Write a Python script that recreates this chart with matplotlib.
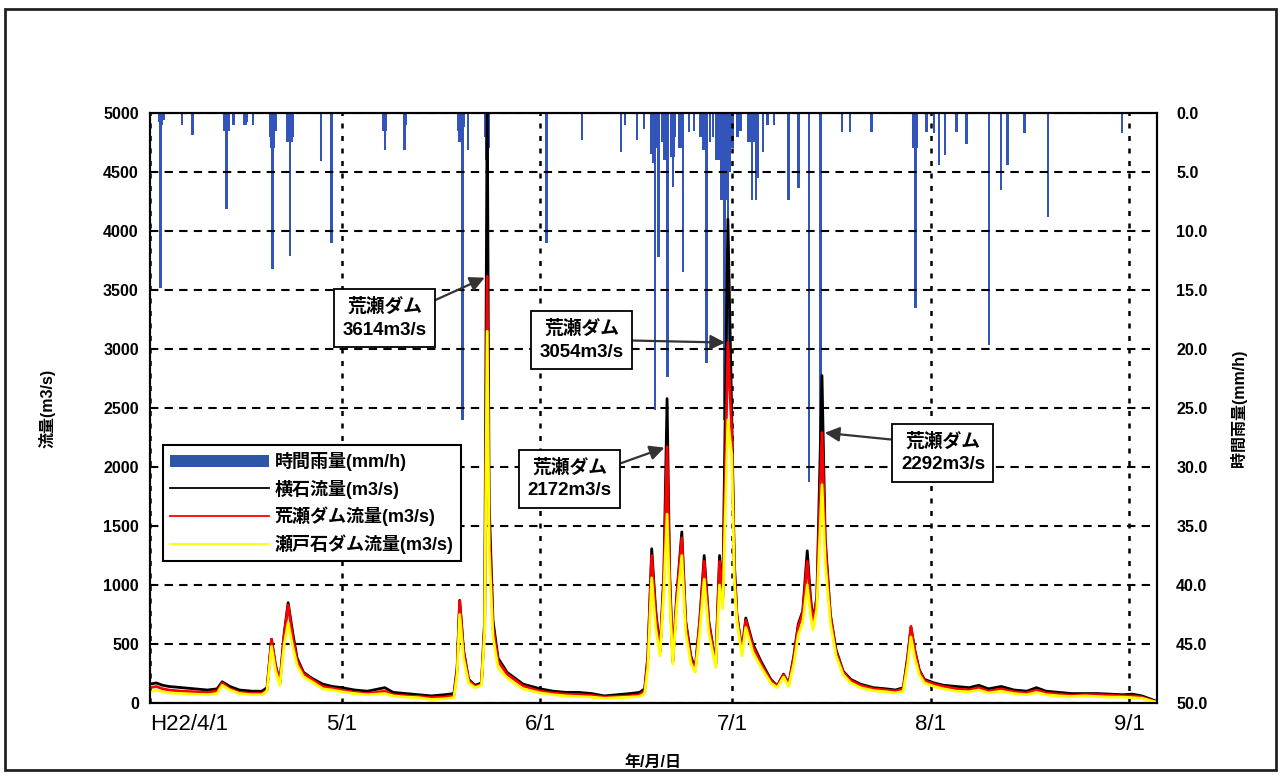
import matplotlib.pyplot as plt
from matplotlib.patches import Patch, Rectangle
from matplotlib.lines import Line2D

plt.rcParams['font.family'] = ['Liberation Sans', 'Noto Sans CJK JP']

# 経過日数 (H22/4/1 = 0)
t_flow = [0, 1, 2, 3, 5, 7, 9, 10.5, 11.3, 12.5,
          14, 16, 17.5, 18.3, 19.0, 19.6, 20.3, 21.0, 21.6, 22.3,
          23.0, 24.0, 25.3, 27.0, 28.5, 30.0, 32.0, 34.0, 36.7, 38.0,
          40.0, 42.0, 44.0, 46.0, 47.5, 48.0, 48.4, 49.0, 49.8, 50.8,
          51.8, 52.3, 52.7, 53.0, 53.6, 54.4, 55.8, 58.3, 61.0, 63.0,
          65.0, 67.0, 69.0, 71.0, 73.0, 75.0, 76.5, 77.3, 77.8, 78.4,
          79.0, 79.7, 80.3, 80.8, 81.2, 81.7, 82.3, 83.1, 83.7, 84.5,
          85.2, 85.9, 86.6, 87.3, 88.4, 89.0, 89.5, 90.3, 90.9, 91.3,
          91.7, 92.5, 93.1, 94.2, 95.5, 97.0, 98.0, 99.0, 99.8, 100.6,
          101.3, 102.0, 102.7, 103.2, 103.6, 104.2, 105.0, 105.5, 106.3, 107.2,
          108.3, 109.5, 111.0, 113.0, 115.0, 116.5, 117.7, 118.4, 118.9, 119.5,
          120.2, 121.0, 122.5, 124.0, 126.0, 128.0, 129.5, 131.0, 133.0, 135.0,
          137.0, 138.5, 140.0, 142.0, 144.0, 146.0, 148.0, 150.0, 152.0, 153.5,
          155.0, 156.0, 157.0]

# 横石流量(m3/s)
q_yokoishi = [160, 170, 150, 140, 130, 120, 110, 120, 180, 140,
              110, 100, 100, 130, 540, 330, 170, 600, 850, 600,
              380, 260, 210, 160, 140, 130, 110, 100, 130, 90,
              80, 70, 60, 70, 80, 300, 870, 450, 200, 150,
              170, 700, 5200, 1700, 700, 380, 260, 160, 120, 100,
              90, 90, 80, 60, 70, 80, 90, 120, 400, 1307,
              800, 440, 1100, 2580, 1100, 360, 900, 1450, 700, 400,
              290, 700, 1250, 700, 330, 1250, 900, 4100, 2450, 1200,
              755, 440, 720, 500, 350, 200, 145, 245, 160, 400,
              670, 780, 1290, 900, 695, 900, 2775, 1400, 755, 450,
              270, 200, 160, 130, 120, 110, 130, 400, 640, 450,
              280, 200, 170, 150, 140, 130, 150, 120, 140, 110,
              100, 130, 100, 90, 80, 80, 80, 75, 70, 75,
              60, 40, 20]

# 荒瀬ダム流量(m3/s)
q_arase = [130, 140, 120, 110, 100, 95, 90, 100, 170, 120,
           90, 80, 80, 110, 540, 320, 165, 580, 830, 560,
           360, 250, 200, 140, 125, 110, 90, 80, 100, 70,
           60, 55, 45, 50, 60, 280, 865, 430, 190, 140,
           160, 650, 3614, 1500, 640, 355, 245, 145, 100, 85,
           75, 70, 65, 50, 55, 60, 70, 100, 380, 1250,
           760, 430, 1050, 2172, 1050, 350, 880, 1400, 680, 380,
           280, 680, 1200, 680, 320, 1200, 880, 3054, 2300, 1150,
           740, 430, 700, 480, 330, 190, 140, 240, 155, 380,
           650, 760, 1200, 850, 680, 880, 2292, 1350, 740, 430,
           260, 190, 150, 120, 110, 100, 120, 380, 650, 440,
           270, 190, 160, 140, 120, 110, 130, 100, 120, 95,
           85, 110, 85, 75, 65, 70, 70, 65, 60, 60,
           50, 30, 15]

# 瀬戸石ダム流量(m3/s)
q_setoishi = [90, 110, 95, 85, 80, 75, 70, 80, 150, 110,
              80, 70, 70, 100, 480, 280, 150, 500, 680, 480,
              320, 220, 180, 120, 110, 95, 80, 70, 80, 60,
              50, 45, 30, 35, 45, 240, 750, 380, 170, 130,
              150, 600, 3150, 1300, 560, 300, 210, 120, 85, 70,
              60, 55, 50, 40, 45, 50, 55, 80, 300, 1060,
              640, 400, 950, 1600, 900, 330, 800, 1250, 600, 340,
              260, 600, 1050, 600, 300, 1000, 800, 2400, 2100, 1050,
              700, 400, 640, 430, 300, 170, 130, 220, 140, 330,
              580, 680, 1000, 750, 620, 800, 1850, 1200, 680, 400,
              240, 170, 130, 105, 95, 85, 100, 330, 560, 380,
              240, 170, 140, 120, 100, 95, 110, 85, 100, 80,
              70, 90, 70, 60, 55, 60, 55, 50, 50, 45,
              40, 25, 10]

# 時間雨量(mm/h)
t_rain = [1.5, 1.7, 1.9, 2.1, 5.0, 6.7, 11.6, 11.8, 12.0, 12.3,
          13.1, 14.8, 15.0, 15.2, 16.1, 18.8, 19.0, 19.2, 19.4, 19.6,
          21.5, 21.7, 21.9, 22.1, 22.3, 26.7, 28.4, 36.5, 36.7, 36.9,
          39.8, 40.0, 48.2, 48.4, 48.6, 48.8, 49.0, 49.7, 52.4, 52.6,
          52.8, 53.0, 62.0, 67.5, 73.6, 74.2, 76.1, 77.2, 78.6, 78.8,
          78.9, 79.1, 79.5, 80.3, 80.6, 80.9, 81.5, 81.7, 81.9, 83.3,
          84.2, 86.4, 86.8, 87.0, 89.0, 89.3, 89.6, 89.8, 90.0, 90.3,
          90.6, 93.5, 93.8, 94.1, 94.4, 94.7, 95.0, 95.8, 99.8, 101.3,
          103.0, 104.8, 108.1, 109.4, 112.7, 119.3, 119.5, 119.6, 119.8, 121.3,
          122.5, 123.3, 124.2, 126.0, 127.6, 131.1, 133.0, 134.0, 136.6, 140.3,
          151.9, 82.0, 82.7, 85.0, 86.0, 88.0, 88.5, 91.0, 91.8, 92.3,
          96.5, 97.5, 78.3, 80.0, 83.0, 87.5]
rain = [0.8, 14.8, 1.0, 0.6, 1.0, 1.9, 1.5, 1.2, 8.1, 1.5,
        1.0, 1.0, 1.0, 0.8, 1.0, 2.0, 3.0, 13.2, 3.0, 1.5,
        2.5, 2.5, 12.1, 2.5, 2.0, 4.1, 11.0, 1.5, 3.1, 1.5,
        3.1, 1.0, 1.5, 2.5, 1.5, 26.0, 1.2, 3.1, 2.0, 4.0,
        7.5, 3.0, 11.0, 2.3, 3.3, 1.0, 2.3, 1.4, 4.2, 4.2,
        25.2, 3.0, 12.2, 4.0, 4.0, 22.4, 3.7, 6.3, 3.7, 13.5,
        1.6, 3.1, 3.1, 21.2, 4.0, 7.4, 7.4, 26.0, 7.4, 20.0,
        5.0, 2.5, 2.5, 7.4, 2.5, 7.4, 5.5, 3.3, 7.4, 6.4,
        31.3, 28.0, 1.6, 1.6, 1.6, 3.0, 13.6, 16.5, 3.0, 1.6,
        1.7, 4.4, 3.6, 1.6, 2.6, 19.7, 6.5, 4.4, 1.7, 8.8,
        1.7, 2.0, 3.0, 1.5, 2.0, 2.0, 4.0, 3.0, 2.0, 1.5,
        1.0, 1.0, 3.5, 2.5, 3.0, 2.5]

month_pos = [0, 30, 61, 91, 122, 153]
month_lbl = ['H22/4/1', '5/1', '6/1', '7/1', '8/1', '9/1']

# 注記 (荒瀬ダムのピーク)
ann_peak = [3614, 3054, 2172, 2292]
ann_text_pos = [(36.7, 3260), (67.5, 3073), (65.6, 1900), (123.9, 2120)]
ann_relpos = [(1, 0.85), (1, 0.5), (1, 0.8), (0, 0.8)]

fig = plt.figure(figsize=(12.81, 7.78), dpi=100)
ax = fig.add_axes([0.117, 0.0964, 0.786, 0.7584])
ax2 = ax.twinx()
ax.set_zorder(ax2.get_zorder() + 1)
ax.patch.set_visible(False)
ax2.set_facecolor('#c5c5c9')

# 雨量 (右軸・反転)
ax2.bar(t_rain, rain, width=0.4, color='#3355bb', linewidth=0)
ax2.set_ylim(50, 0)
ax2.set_yticks(range(0, 51, 5))
ax2.set_yticklabels(['%.1f' % v for v in range(0, 51, 5)], fontsize=11.5, fontweight='bold')
ax2.set_ylabel('時間雨量(mm/h)', fontsize=11.5, fontweight='bold', labelpad=16)

# 流量
ax.plot(t_flow, q_yokoishi, color='black', lw=2.0)
ax.plot(t_flow, q_arase, color='#ff0000', lw=2.0)
ax.plot(t_flow, q_setoishi, color='#ffff00', lw=2.0)
ax.set_ylim(0, 5000)
ax.set_xlim(0, 157.3)
ax.set_yticks(range(0, 5001, 500))
ax.set_yticklabels([str(v) for v in range(0, 5001, 500)], fontsize=11.5, fontweight='bold')
ax.set_ylabel('流量(m3/s)', fontsize=11.5, fontweight='bold', labelpad=34)
ax.set_xticks(month_pos)
ax.set_xticklabels(month_lbl, fontsize=16)
ax.get_xticklabels()[0].set_horizontalalignment('left')
ax.set_xlabel('年/月/日', fontsize=11.5, fontweight='bold', labelpad=14)

ax.yaxis.grid(True, color='black', linestyle=(0, (4, 3)), lw=1.5)
ax.xaxis.grid(True, color='black', linestyle=(0, (2, 3)), lw=1.8)
ax.tick_params(axis='both', length=0, pad=8)
ax2.tick_params(axis='y', length=0, pad=14)
for a in (ax, ax2):
    for s in a.spines.values():
        s.set_linewidth(1.5)

# 注記
for (tx, ty), rp, pk in zip(ann_text_pos, ann_relpos, ann_peak):
    i = q_arase.index(pk)
    ax.annotate('荒瀬ダム\n%dm3/s' % pk, xy=(t_flow[i], pk), xytext=(tx, ty),
                ha='center', va='center', fontsize=13.5, fontweight='bold',
                linespacing=1.45,
                bbox=dict(boxstyle='square,pad=0.45', fc='white', ec='black', lw=1.3),
                arrowprops=dict(arrowstyle='-|>', color='#333333', lw=1.6,
                                mutation_scale=22, relpos=rp, shrinkA=0, shrinkB=2))

# 凡例
handles = [Patch(facecolor='#2d57a6', edgecolor='none'),
           Line2D([], [], color='black', lw=1.3),
           Line2D([], [], color='#ff0000', lw=1.3),
           Line2D([], [], color='#ffff00', lw=1.3)]
labels = ['時間雨量(mm/h)', '横石流量(m3/s)', '荒瀬ダム流量(m3/s)', '瀬戸石ダム流量(m3/s)']
leg = ax.legend(handles, labels, loc='upper left', bbox_to_anchor=(0.013, 0.437),
                borderaxespad=0, fancybox=False, framealpha=1, edgecolor='black',
                prop={'size': 13, 'weight': 'bold'}, handlelength=5.5,
                handletextpad=0.3, labelspacing=0.45, borderpad=0.4)
leg.get_frame().set_linewidth(1.5)

fig.add_artist(Rectangle((0.004, 0.01), 0.992, 0.978, transform=fig.transFigure,
                         fill=False, lw=2, edgecolor='#222222'))

fig.savefig('out.png', dpi=100)
